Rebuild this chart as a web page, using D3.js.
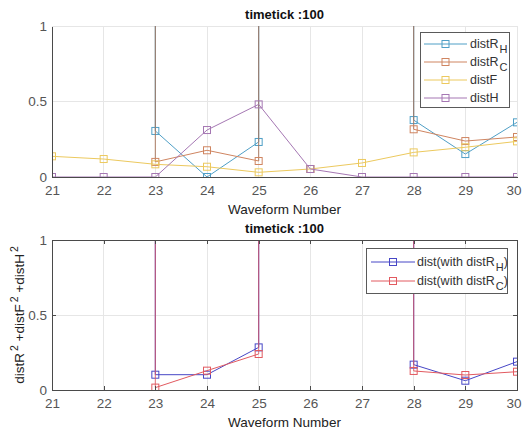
<!DOCTYPE html>
<html>
<head>
<meta charset="utf-8">
<script src="https://cdn.jsdelivr.net/npm/d3@7"></script>
<style>
  html, body { margin: 0; padding: 0; background: #fff; }
  svg { display: block; font-family: "Liberation Sans", Arial, Helvetica, sans-serif; }
</style>
</head>
<body>
<svg id="chart" width="522" height="430"></svg>
<script>
// Waveform numbers on the x axis
const waveforms = [21, 22, 23, 24, 25, 26, 27, 28, 29, 30];
const yTicks = [0, 0.5, 1];
const yTickLabels = ["0", "0.5", "1"];
const titleText = "timetick :100";
const xLabelText = "Waveform Number";

// Upper panel: individual distance components (null = no value)
const distRH = [null, null, 0.305, 0.000, 0.232, null, null, 0.377, 0.152, 0.362];
const distRC = [null, null, 0.100, 0.177, 0.106, 0.053, null, 0.316, 0.238, 0.265];
const distF  = [0.137, 0.119, 0.084, 0.068, 0.031, 0.053, 0.093, 0.163, 0.197, 0.236];
const distH  = [0.000, 0.000, 0.000, 0.311, 0.481, 0.053, 0.000, 0.000, 0.000, 0.000];

// Lower panel: combined distance
const distWithRH = [null, null, 0.102, 0.102, 0.284, null, null, 0.169, 0.062, 0.189];
const distWithRC = [null, null, 0.016, 0.129, 0.240, null, null, 0.127, 0.100, 0.122];

// Waveforms where a series shoots off the top of the axes (drawn as vertical runs)
const spikesRH = [23, 25, 28];
const spikesRC = [23, 25, 28];
const spikesWithRH = [23, 25, 28];
const spikesWithRC = [23, 25, 28];
// Waveforms after which a series line is interrupted
const breaksRC = [25];

const svg = d3.select("#chart");
const W = +svg.attr("width");

const x = d3.scaleLinear().domain([21, 30]).range([52, 517]);
const yTop = d3.scaleLinear().domain([0, 1]).range([177, 26]);
const yBot = d3.scaleLinear().domain([0, 1]).range([390, 240]);

const GRID = "#e6e6e6";
const AXIS = "#4a4a4a";
const TICKTXT = "#555";

function segmentsOf(values, breaks) {
  const segs = [];
  let cur = [];
  values.forEach((v, i) => {
    const w = waveforms[i];
    if (v == null) { if (cur.length) segs.push(cur); cur = []; return; }
    cur.push([w, v]);
    if (breaks && breaks.includes(w)) { segs.push(cur); cur = []; }
  });
  if (cur.length) segs.push(cur);
  return segs;
}

function drawPanel(opts) {
  const { y, clipId, series, boxed } = opts;
  const [y0, y1] = y.range();
  const g = svg.append("g");

  svg.append("clipPath").attr("id", clipId)
    .append("rect").attr("x", x.range()[0]).attr("y", y1)
    .attr("width", x.range()[1] - x.range()[0]).attr("height", y0 - y1);

  // grid
  g.append("g").selectAll("line.gx").data(waveforms).join("line")
    .attr("x1", d => x(d)).attr("x2", d => x(d))
    .attr("y1", y0).attr("y2", y1)
    .attr("stroke", GRID).attr("stroke-width", 1).attr("shape-rendering", "crispEdges");
  g.append("g").selectAll("line.gy").data(yTicks.filter(t => t > 0)).join("line")
    .attr("x1", x.range()[0]).attr("x2", x.range()[1])
    .attr("y1", d => y(d)).attr("y2", d => y(d))
    .attr("stroke", GRID).attr("stroke-width", 1).attr("shape-rendering", "crispEdges");

  // data
  const plot = g.append("g").attr("clip-path", `url(#${clipId})`);
  const line = d3.line().x(d => x(d[0])).y(d => y(d[1]));
  series.forEach(s => {
    const sg = plot.append("g");
    // off-scale runs
    (s.spikes || []).forEach(w => {
      const v = s.values[waveforms.indexOf(w)];
      sg.append("line")
        .attr("x1", x(w)).attr("x2", x(w))
        .attr("y1", y(v)).attr("y2", y1 - 2)
        .attr("stroke", s.spikeColor || s.color).attr("stroke-width", 1.1)
        .attr("stroke-opacity", s.spikeOpacity || 1);
    });
    segmentsOf(s.values, s.breaks).forEach(seg => {
      sg.append("path").attr("d", line(seg))
        .attr("fill", "none").attr("stroke", s.color).attr("stroke-width", 1);
    });
    const pts = s.values.map((v, i) => [waveforms[i], v]).filter(d => d[1] != null);
    sg.selectAll("rect").data(pts).join("rect")
      .attr("x", d => x(d[0]) - 3.5).attr("y", d => y(d[1]) - 3.5)
      .attr("width", 7).attr("height", 7)
      .attr("fill", "none").attr("stroke", s.color).attr("stroke-width", 1);
  });

  // axes
  const tickLen = boxed ? 4 : 0;
  const xAxis = g.append("g").attr("transform", `translate(0,${y0})`)
    .call(d3.axisBottom(x).tickValues(waveforms).tickFormat(d3.format("d"))
      .tickSizeInner(-tickLen).tickSizeOuter(0).tickPadding(8));
  const yAxis = g.append("g").attr("transform", `translate(${x.range()[0]},0)`)
    .call(d3.axisLeft(y).tickValues(yTicks).tickFormat((d, i) => yTickLabels[i])
      .tickSizeInner(-tickLen).tickSizeOuter(0).tickPadding(5));
  [xAxis, yAxis].forEach(a => {
    a.select(".domain").attr("stroke", AXIS).attr("shape-rendering", "crispEdges");
    a.selectAll(".tick line").attr("stroke", AXIS).attr("shape-rendering", "crispEdges");
    a.selectAll(".tick text").attr("fill", TICKTXT).attr("font-size", 13.5)
      .attr("font-family", "Liberation Sans, Arial, sans-serif");
  });
  xAxis.selectAll(".tick text").attr("dy", "0.71em").attr("y", 8);
  // keep the last label inside the page edge
  xAxis.selectAll(".tick text").filter(d => d === waveforms[waveforms.length - 1])
    .attr("text-anchor", "end").attr("x", W - 1 - x(waveforms[waveforms.length - 1]));

  if (boxed) {
    const topAx = g.append("g").attr("transform", `translate(0,${y1})`)
      .call(d3.axisTop(x).tickValues(waveforms).tickFormat("")
        .tickSizeInner(-tickLen).tickSizeOuter(0));
    const rightAx = g.append("g").attr("transform", `translate(${x.range()[1]},0)`)
      .call(d3.axisRight(y).tickValues(yTicks).tickFormat("")
        .tickSizeInner(-tickLen).tickSizeOuter(0));
    [topAx, rightAx].forEach(a => {
      a.select(".domain").attr("stroke", AXIS).attr("shape-rendering", "crispEdges");
      a.selectAll(".tick line").attr("stroke", AXIS).attr("shape-rendering", "crispEdges");
    });
  }

  // title and x label
  const cx = (x.range()[0] + x.range()[1]) / 2;
  g.append("text").attr("x", cx).attr("y", y1 - 7)
    .attr("text-anchor", "middle").attr("font-size", 13).attr("font-weight", "bold")
    .attr("fill", "#111").text(titleText);
  g.append("text").attr("x", cx).attr("y", y0 + 37)
    .attr("text-anchor", "middle").attr("font-size", 13.5)
    .attr("fill", "#222").text(xLabelText);
  return g;
}

function drawLegend(entries, box) {
  const g = svg.append("g");
  g.append("rect").attr("x", box.x + 0.5).attr("y", box.y + 0.5)
    .attr("width", box.w).attr("height", box.h)
    .attr("fill", "#fff").attr("stroke", "#5a5a5a").attr("stroke-width", 1);
  entries.forEach((e, i) => {
    const cy = box.firstY + i * box.step;
    g.append("line").attr("x1", box.lineX0).attr("x2", box.lineX1)
      .attr("y1", cy).attr("y2", cy).attr("stroke", e.color).attr("stroke-width", 1);
    const mx = (box.lineX0 + box.lineX1) / 2;
    g.append("rect").attr("x", mx - 3.5).attr("y", cy - 3.5).attr("width", 7).attr("height", 7)
      .attr("fill", "none").attr("stroke", e.color).attr("stroke-width", 1);
    const t = g.append("text").attr("x", box.textX).attr("y", cy + 4)
      .attr("font-size", 12.5).attr("fill", "#333");
    t.append("tspan").text(e.label);
    if (e.sub) {
      t.append("tspan").attr("dy", 5).attr("dx", 1).attr("font-size", 11).text(e.sub);
      if (e.after) t.append("tspan").attr("dy", -5).attr("font-size", 12.5).text(e.after);
    }
  });
}

// Upper panel
const cRH = "#4f9fc6", cRC = "#cf8561", cF = "#ecc95e", cH = "#a577b3";
drawPanel({
  y: yTop, clipId: "clipTop", boxed: false,
  series: [
    { values: distRH, color: cRH, spikes: spikesRH },
    { values: distRC, color: cRC, spikes: spikesRC, breaks: breaksRC,
      spikeColor: "#a8745a", spikeOpacity: 0.85 },
    { values: distF, color: cF },
    { values: distH, color: cH }
  ]
});
drawLegend([
  { label: "distR", sub: "H", color: cRH },
  { label: "distR", sub: "C", color: cRC },
  { label: "distF", color: cF },
  { label: "distH", color: cH }
], { x: 420, y: 32, w: 89, h: 75, firstY: 44, step: 18, lineX0: 424, lineX1: 467, textX: 470 });

// Lower panel
const cWH = "#4747c6", cWC = "#e25a60";
drawPanel({
  y: yBot, clipId: "clipBot", boxed: true,
  series: [
    { values: distWithRH, color: cWH, spikes: spikesWithRH },
    { values: distWithRC, color: cWC, spikes: spikesWithRC, spikeOpacity: 0.75 }
  ]
});
drawLegend([
  { label: "dist(with distR", sub: "H", after: ")", color: cWH },
  { label: "dist(with distR", sub: "C", after: ")", color: cWC }
], { x: 366, y: 248, w: 141, h: 45, firstY: 262, step: 19, lineX0: 371, lineX1: 415, textX: 417 });

// y label of the lower panel
const yl = svg.append("text")
  .attr("transform", `translate(24,${(yBot.range()[0] + yBot.range()[1]) / 2}) rotate(-90)`)
  .attr("text-anchor", "middle").attr("font-size", 13.5).attr("fill", "#222");
[["distR", "2"], [" +distF", "2"], [" +distH", "2"]].forEach(([base, sup]) => {
  yl.append("tspan").text(base);
  yl.append("tspan").attr("dy", -6).attr("dx", 2).attr("font-size", 10.5).text(sup);
  yl.append("tspan").attr("dy", 6).text(" ");
});
</script>
</body>
</html>
